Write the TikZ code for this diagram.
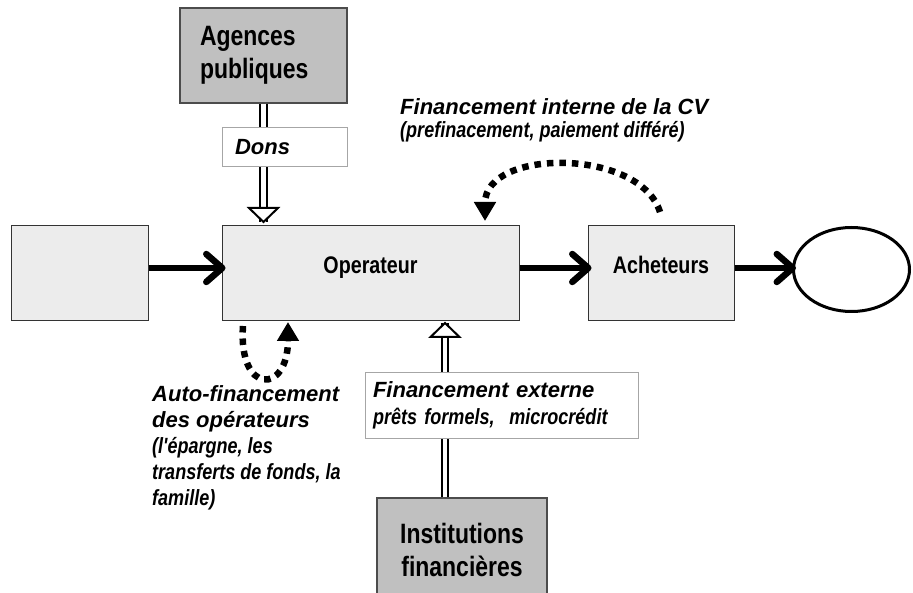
\documentclass[tikz,border=0pt]{standalone}
\usepackage{fontspec}
\setmainfont{Liberation Sans}
\newfontfamily\narrowfont[FakeStretch=0.82]{Liberation Sans}
\usetikzlibrary{arrows.meta,shapes.geometric}
\definecolor{boxGray}{HTML}{C0C0C0}
\definecolor{paleGray}{HTML}{ECECEC}
\tikzset{
  flowbox/.style={draw=black!80, fill=paleGray, line width=1pt, inner sep=0pt,
    font=\narrowfont\bfseries\fontsize{24}{28}\selectfont, text height=18pt, text depth=17pt},
  sourcebox/.style={draw=black!70, fill=boxGray, line width=1.3pt, inner sep=0pt,
    font=\narrowfont\bfseries\fontsize{28}{33}\selectfont},
  notebox/.style={draw=black!35, fill=white, line width=1pt, inner sep=0pt, align=left},
  flow/.style={line width=6.5pt, shorten >=-4pt, -{Straight Barb[round,length=16pt,width=28pt]}},
  funding/.style={double=white, double distance=4.5pt, line width=2pt},
  fundhead/.style={draw, line width=2pt, fill=white, line join=miter},
  loopflow/.style={line width=6.5pt, dash pattern=on 6.5pt off 6pt, -{Triangle[length=19pt,width=21pt]}}
}
\begin{document}
\begin{tikzpicture}[x=1pt,y=-1pt]
  \useasboundingbox (0,0) rectangle (913,593);
  \clip (0,0) rectangle (913,593);
  % main chain
  \node[flowbox, minimum width=137pt, minimum height=95pt] (fournisseur) at (79.5,273.5) {};
  \node[flowbox, minimum width=297pt, minimum height=95pt] (operateur) at (370.5,273.5) {Operateur};
  \node[flowbox, minimum width=146pt, minimum height=95pt] (acheteurs) at (661,273.5) {Acheteurs};
  \node[draw, ellipse, line width=3pt, minimum width=116pt, minimum height=84pt, inner sep=0pt] (marche) at (851.5,269.5) {};
  \coordinate (row) at (0,268);
  \draw[flow] (fournisseur.east |- row) -- (operateur.west |- row);
  \draw[flow] (operateur.east |- row) -- (acheteurs.west |- row);
  \draw[flow] (acheteurs.east |- row) -- (marche.west |- row);
  % sources de financement
  \node[sourcebox, minimum width=167pt, minimum height=95pt, text width=127pt, align=left] (agences) at (263.5,55.5) {Agences\\publiques};
  \node[sourcebox, minimum width=170pt, minimum height=104pt, align=center] (institutions) at (462,550) {Institutions\\financières};
  \coordinate (donsTip) at (263.5,222);
  \coordinate (externeTip) at (445,323);
  \draw[funding] (agences.south) -- (donsTip);
  \draw[funding] (institutions.north -| externeTip) -- (externeTip);
  \draw[fundhead] (donsTip) -- ++(-14.5,-14) -- ++(29,0) -- cycle;
  \draw[fundhead] (externeTip) -- ++(-14.5,14) -- ++(29,0) -- cycle;
  \node[notebox, minimum width=125pt, minimum height=39pt, text width=99pt,
    font=\bfseries\itshape\fontsize{22}{26}\selectfont] (dons) at (284.5,147.5) {Dons};
  \node[notebox, minimum width=273pt, minimum height=65pt, text width=257pt,
    font=\bfseries\itshape\fontsize{22}{27}\selectfont] (externe) at (501.5,405.5)
    {Financement externe\\{\narrowfont prêts formels,\ \ microcrédit}};
  % financement interne
  \coordinate (cvStart) at (660,212);
  \coordinate (cvTip) at (485,221);
  \draw[loopflow] (cvStart) .. controls (640,148) and (485,148) .. (cvTip);
  \node[anchor=west, inner sep=0pt, align=left,
    font=\bfseries\itshape\fontsize{22}{23}\selectfont] (interne) at (400,120.5)
    {Financement interne de la CV\\{\narrowfont (prefinacement, paiement différé)}};
  % auto-financement
  \coordinate (autoStart) at (243,326);
  \coordinate (autoTip) at (288,322);
  \draw[loopflow] (autoStart) .. controls (238,395) and (288,395) .. (autoTip);
  \node[anchor=west, inner sep=0pt, align=left,
    font=\bfseries\itshape\fontsize{22}{26}\selectfont] (auto) at (152,447.5)
    {Auto-financement\\des opérateurs\\{\narrowfont (l'épargne, les}\\{\narrowfont transferts de fonds, la}\\{\narrowfont famille)}};
\end{tikzpicture}
\end{document}
